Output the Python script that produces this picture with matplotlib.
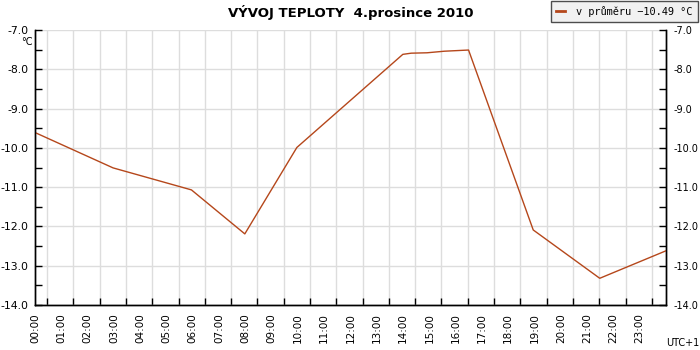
import matplotlib
matplotlib.use("Agg")
import matplotlib.pyplot as plt
from matplotlib.lines import Line2D

# data (hours since midnight, temperature °C)
hours = [0.0, 2.97, 5.95, 7.98, 9.96, 13.99, 14.31, 14.91, 15.57, 16.49, 18.95, 21.48, 24.0]
temps = [-9.61, -10.51, -11.07, -12.19, -9.99, -7.62, -7.59, -7.58, -7.54, -7.51, -12.09, -13.32, -12.62]
hour_labels = ["%02d:00" % h for h in range(24)]
title = "VÝVOJ TEPLOTY  4.prosince 2010"
legend_label = "v průměru −10.49 °C"

plt.rcParams['axes.unicode_minus'] = False
plt.rcParams['font.family'] = ['DejaVu Sans']

fig = plt.figure(figsize=(7, 3.5), dpi=100)
ax = fig.add_axes([35/700, 45/350, 631/700, 275/350])

line_color = '#B5471B'
ax.plot(hours, temps, color=line_color, lw=1.0, zorder=3)

ax.set_xlim(0, 24)
ax.set_ylim(-14, -7)

# x: labels at full hours, grid/ticks offset
ax.set_xticks(range(24))
ax.set_xticklabels(hour_labels, rotation=90, fontsize=7.5, va='top')
ax.set_xticks([h + 0.46 for h in range(24)], minor=True)
ax.tick_params(axis='x', which='major', length=0, pad=6)
ax.tick_params(axis='x', which='minor', direction='in', length=5, width=1, color='black')
ax.grid(True, axis='x', which='minor', color='#dddddd', lw=1)

# y
yt = [-14 + i for i in range(8)]
ax.set_yticks(yt)
ax.set_yticklabels(["%.1f" % v for v in yt], fontsize=7.8)
ax.set_yticks([v + 0.5 for v in yt[:-1]], minor=True)
ax.tick_params(axis='y', which='both', direction='in', length=5, width=1, pad=4.5)
ax.grid(True, axis='y', which='major', color='#dddddd', lw=1)
ax.set_axisbelow(True)

ax2 = ax.twinx()
ax2.set_ylim(-14, -7)
ax2.set_yticks(yt)
ax2.set_yticklabels(["%.1f" % v for v in yt], fontsize=7)
ax2.set_yticks([v + 0.5 for v in yt[:-1]], minor=True)
ax2.tick_params(axis='y', which='both', direction='in', length=5, width=1, pad=5.5)

for a in (ax, ax2):
    a.spines['top'].set_visible(False)
    for s in ('left', 'right', 'bottom'):
        a.spines[s].set_color('black')
        a.spines[s].set_linewidth(1)

ax.text(-0.003, 0.955, "°C", transform=ax.transAxes, ha='right', va='center', fontsize=7)
fig.text(699/700, 7/350, "UTC+1", ha='right', va='center', fontsize=7)

fig.text(351/700, 1 - 12/350, title, ha='center', va='center', fontsize=9.5, fontweight='bold')

handle = Line2D([], [], color=line_color, lw=2)
leg = fig.legend([handle], [legend_label], loc='upper right', bbox_to_anchor=(698/700, 349/350),
                 prop={'family': 'DejaVu Sans Mono', 'size': 7.4}, frameon=True, fancybox=False,
                 shadow=False, handlelength=0.9, handletextpad=1.1, borderpad=0.5,
                 borderaxespad=0.0)
leg.get_frame().set_facecolor('#eeeeee')
leg.get_frame().set_edgecolor('#222222')
leg.get_frame().set_linewidth(1)

fig.savefig("out.png", dpi=100)
